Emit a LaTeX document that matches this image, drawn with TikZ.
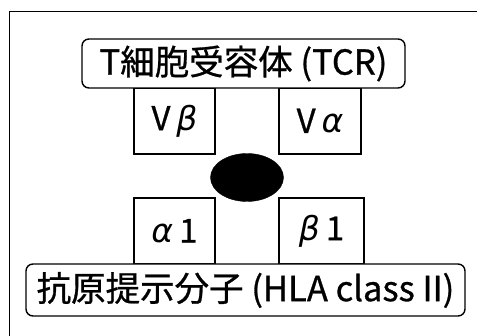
\documentclass[tikz,border=0pt]{standalone}
\usepackage{fontspec}
\newfontfamily\jp[FakeBold=0.8]{Noto Sans CJK JP}
\newfontfamily\grk{DejaVu Sans}
\newcommand{\gk}[1]{{\grk\itshape #1}}
\usetikzlibrary{shapes.geometric}
\begin{document}
\begin{tikzpicture}[x=1pt,y=-1pt,
  every node/.style={inner sep=0pt,outer sep=0pt},
  chainbox/.style={draw=black,line width=1.4pt,fill=white,rounded corners=7pt,font=\jp\fontsize{34.5}{38}\selectfont},
  dombox/.style={draw=black,line width=1.3pt,fill=white,font=\jp\fontsize{33}{36}\selectfont},
  pepblob/.style={ellipse,fill=black,draw=black}]
\useasboundingbox (0,0) rectangle (477,336);
\fill[white] (0,0) rectangle (477,336);
\draw[line width=0.9pt] (477,11) -- (9,11) -- (9,336);
\node[dombox,minimum width=81pt,minimum height=66pt] (vb) at (174.5,121) {V\hspace{0.18em}\gk{β}};
\node[dombox,minimum width=82pt,minimum height=66pt] (va) at (320,121) {V\hspace{0.18em}\gk{α}};
\node[dombox,minimum width=81pt,minimum height=66pt] (a1) at (174.5,231) {\gk{α}\hspace{0.18em}1};
\node[dombox,minimum width=85pt,minimum height=66pt] (b1) at (321.5,231) {\gk{β}\hspace{0.18em}1};
\node[chainbox,minimum width=323pt,minimum height=49pt] (tcr) at (243.5,63.5) {T細胞受容体 (TCR)};
\node[chainbox,minimum width=439pt,minimum height=52pt] (hla) at (245.5,290) {抗原提示分子 (HLA class II)};
\node[pepblob,minimum width=73pt,minimum height=48pt] (pep) at (247,177.5) {};
\end{tikzpicture}
\end{document}
